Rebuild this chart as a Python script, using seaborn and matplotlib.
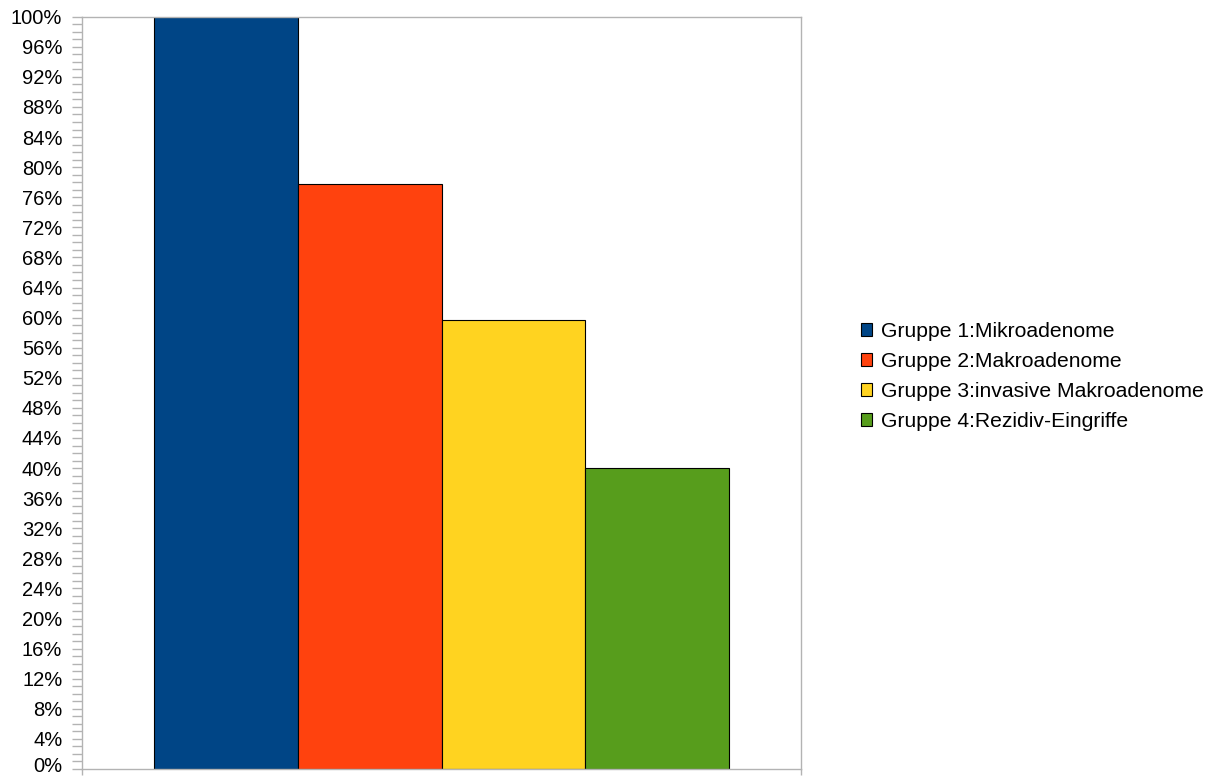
import matplotlib
matplotlib.use("Agg")
import matplotlib.pyplot as plt
from matplotlib.ticker import MultipleLocator, FuncFormatter
from matplotlib.transforms import ScaledTranslation
import seaborn as sns
import pandas as pd

groups = [
    "Gruppe 1:Mikroadenome",
    "Gruppe 2:Makroadenome",
    "Gruppe 3:invasive Makroadenome",
    "Gruppe 4:Rezidiv-Eingriffe",
]
values = [100.0, 77.7, 59.7, 40.0]
colors = ["#004586", "#ff420e", "#ffd320", "#579d1c"]

df = pd.DataFrame({"cat": [""] * len(groups), "Gruppe": groups, "Anteil": values})

sns.set_style("white")
plt.rcParams["font.family"] = ["Liberation Sans", "DejaVu Sans"]

fig = plt.figure(figsize=(12.2, 7.78), dpi=100)
ax = fig.add_axes([82 / 1220, 1 - 769 / 778, (801 - 82) / 1220, (769 - 16.7) / 778])

sns.barplot(data=df, x="cat", y="Anteil", hue="Gruppe", hue_order=groups,
            palette=colors, edgecolor="black", linewidth=0.8, width=0.8,
            saturation=1, ax=ax, legend=True)

ax.set_xlim(-0.5, 0.5)
ax.set_ylim(0, 100)
ax.yaxis.set_major_locator(MultipleLocator(4))
ax.yaxis.set_minor_locator(MultipleLocator(1))
ax.yaxis.set_major_formatter(FuncFormatter(lambda v, p: f"{int(round(v))}%"))
ax.tick_params(axis="y", which="both", left=True, length=7.2, width=1,
               color="#b3b3b3", labelsize=14.5, pad=7, labelcolor="black")

ax.set_xticks([-0.5, 0.5])
ax.set_xticklabels(["", ""])
ax.tick_params(axis="x", bottom=True, length=4.5, width=1, color="#b3b3b3")
ax.set_xlabel("")
ax.set_ylabel("")
for s in ax.spines.values():
    s.set_color("#b3b3b3")
    s.set_linewidth(1)
ax.grid(False)

handles, labels = ax.get_legend_handles_labels()
ax.get_legend().remove()
fig.legend(handles, labels, loc="center left", bbox_to_anchor=(861 / 1220, 1 - 376.5 / 778),
           frameon=False, fontsize=15.2, handlelength=0.53, handleheight=0.53,
           handletextpad=0.43, labelspacing=0.52, borderpad=0, borderaxespad=0,
           labelcolor="black")

# finalize tick labels, then lift the lowest one so it stays inside the canvas
fig.canvas.draw()
lift = ScaledTranslation(0, 4 / 100, fig.dpi_scale_trans)
for tick in ax.yaxis.get_major_ticks():
    tick.label1.set_verticalalignment("center_baseline")
    if tick.label1.get_text() == "0%":
        tick.label1.set_transform(tick.label1.get_transform() + lift)

fig.savefig("out.png", dpi=100)
